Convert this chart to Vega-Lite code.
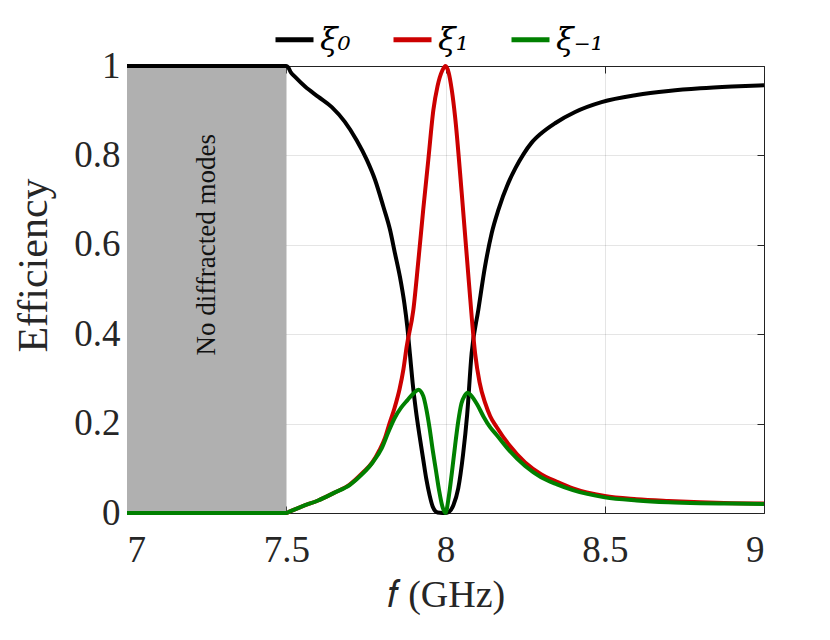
{
  "$schema": "https://vega.github.io/schema/vega-lite/v6.json",
  "width": 637,
  "height": 447,
  "autosize": "none",
  "padding": {"left": 127, "top": 66, "right": 66, "bottom": 127},
  "background": "white",
  "config": {
    "view": {"stroke": "#262626", "strokeWidth": 1},
    "axis": {
      "labelColor": "#262626",
      "titleColor": "#262626",
      "labelFontSize": 37,
      "titleFontSize": 42,
      "titleFontWeight": "normal",
      "domain": false,
      "tickColor": "#262626",
      "tickWidth": 1,
      "tickSize": -7,
      "gridColor": "#000000",
      "gridOpacity": 0.1,
      "zindex": 1
    }
  },
  "datasets": {
    "shade": [{"x": 7, "x2": 7.5, "y": 0, "y2": 1}],
    "note": [{"f": 7.25, "eff": 0.6, "label": "No diffracted modes"}],
    "curves": [
      {"series": "ξ₀", "f": 7.0, "eff": 1.0},
      {"series": "ξ₀", "f": 7.5, "eff": 1.0},
      {"series": "ξ₀", "f": 7.506, "eff": 0.997},
      {"series": "ξ₀", "f": 7.515, "eff": 0.985},
      {"series": "ξ₀", "f": 7.527, "eff": 0.976},
      {"series": "ξ₀", "f": 7.559, "eff": 0.954},
      {"series": "ξ₀", "f": 7.601, "eff": 0.931},
      {"series": "ξ₀", "f": 7.643, "eff": 0.908},
      {"series": "ξ₀", "f": 7.684, "eff": 0.875},
      {"series": "ξ₀", "f": 7.721, "eff": 0.834},
      {"series": "ξ₀", "f": 7.753, "eff": 0.79},
      {"series": "ξ₀", "f": 7.779, "eff": 0.745},
      {"series": "ξ₀", "f": 7.805, "eff": 0.685},
      {"series": "ξ₀", "f": 7.826, "eff": 0.633},
      {"series": "ξ₀", "f": 7.841, "eff": 0.582},
      {"series": "ξ₀", "f": 7.857, "eff": 0.528},
      {"series": "ξ₀", "f": 7.871, "eff": 0.468},
      {"series": "ξ₀", "f": 7.88, "eff": 0.417},
      {"series": "ξ₀", "f": 7.889, "eff": 0.35},
      {"series": "ξ₀", "f": 7.897, "eff": 0.29},
      {"series": "ξ₀", "f": 7.907, "eff": 0.23},
      {"series": "ξ₀", "f": 7.918, "eff": 0.175},
      {"series": "ξ₀", "f": 7.93, "eff": 0.12},
      {"series": "ξ₀", "f": 7.94, "eff": 0.075},
      {"series": "ξ₀", "f": 7.95, "eff": 0.04},
      {"series": "ξ₀", "f": 7.96, "eff": 0.014},
      {"series": "ξ₀", "f": 7.975, "eff": 0.001},
      {"series": "ξ₀", "f": 7.99, "eff": 0.0},
      {"series": "ξ₀", "f": 8.0, "eff": 0.0},
      {"series": "ξ₀", "f": 8.012, "eff": 0.003},
      {"series": "ξ₀", "f": 8.025, "eff": 0.018},
      {"series": "ξ₀", "f": 8.04, "eff": 0.055},
      {"series": "ξ₀", "f": 8.055, "eff": 0.13},
      {"series": "ξ₀", "f": 8.068, "eff": 0.22},
      {"series": "ξ₀", "f": 8.082, "eff": 0.357},
      {"series": "ξ₀", "f": 8.103, "eff": 0.454},
      {"series": "ξ₀", "f": 8.124, "eff": 0.551},
      {"series": "ξ₀", "f": 8.145, "eff": 0.626},
      {"series": "ξ₀", "f": 8.166, "eff": 0.678},
      {"series": "ξ₀", "f": 8.197, "eff": 0.738},
      {"series": "ξ₀", "f": 8.22, "eff": 0.772},
      {"series": "ξ₀", "f": 8.245, "eff": 0.803},
      {"series": "ξ₀", "f": 8.27, "eff": 0.828},
      {"series": "ξ₀", "f": 8.3, "eff": 0.849},
      {"series": "ξ₀", "f": 8.344, "eff": 0.872},
      {"series": "ξ₀", "f": 8.407, "eff": 0.897},
      {"series": "ξ₀", "f": 8.49, "eff": 0.919},
      {"series": "ξ₀", "f": 8.6, "eff": 0.935},
      {"series": "ξ₀", "f": 8.7, "eff": 0.944},
      {"series": "ξ₀", "f": 8.8, "eff": 0.95},
      {"series": "ξ₀", "f": 8.9, "eff": 0.954},
      {"series": "ξ₀", "f": 9.0, "eff": 0.957},

      {"series": "ξ₁", "f": 7.0, "eff": 0.0},
      {"series": "ξ₁", "f": 7.5, "eff": 0.0},
      {"series": "ξ₁", "f": 7.51, "eff": 0.003},
      {"series": "ξ₁", "f": 7.55, "eff": 0.015},
      {"series": "ξ₁", "f": 7.6, "eff": 0.028},
      {"series": "ξ₁", "f": 7.65, "eff": 0.045},
      {"series": "ξ₁", "f": 7.7, "eff": 0.064},
      {"series": "ξ₁", "f": 7.74, "eff": 0.09},
      {"series": "ξ₁", "f": 7.77, "eff": 0.113},
      {"series": "ξ₁", "f": 7.793, "eff": 0.141},
      {"series": "ξ₁", "f": 7.81, "eff": 0.168},
      {"series": "ξ₁", "f": 7.824, "eff": 0.2},
      {"series": "ξ₁", "f": 7.84, "eff": 0.235},
      {"series": "ξ₁", "f": 7.856, "eff": 0.278},
      {"series": "ξ₁", "f": 7.868, "eff": 0.322},
      {"series": "ξ₁", "f": 7.878, "eff": 0.372},
      {"series": "ξ₁", "f": 7.899, "eff": 0.454},
      {"series": "ξ₁", "f": 7.915, "eff": 0.566},
      {"series": "ξ₁", "f": 7.93, "eff": 0.678},
      {"series": "ξ₁", "f": 7.946, "eff": 0.79},
      {"series": "ξ₁", "f": 7.962, "eff": 0.902},
      {"series": "ξ₁", "f": 7.975, "eff": 0.955},
      {"series": "ξ₁", "f": 7.99, "eff": 0.99},
      {"series": "ξ₁", "f": 8.0, "eff": 1.0},
      {"series": "ξ₁", "f": 8.01, "eff": 0.985},
      {"series": "ξ₁", "f": 8.02, "eff": 0.945},
      {"series": "ξ₁", "f": 8.03, "eff": 0.887},
      {"series": "ξ₁", "f": 8.051, "eff": 0.715},
      {"series": "ξ₁", "f": 8.072, "eff": 0.529},
      {"series": "ξ₁", "f": 8.093, "eff": 0.357},
      {"series": "ξ₁", "f": 8.107, "eff": 0.292},
      {"series": "ξ₁", "f": 8.125, "eff": 0.245},
      {"series": "ξ₁", "f": 8.14, "eff": 0.217},
      {"series": "ξ₁", "f": 8.16, "eff": 0.193},
      {"series": "ξ₁", "f": 8.2, "eff": 0.152},
      {"series": "ξ₁", "f": 8.25, "eff": 0.113},
      {"series": "ξ₁", "f": 8.3, "eff": 0.087},
      {"series": "ξ₁", "f": 8.35, "eff": 0.07},
      {"series": "ξ₁", "f": 8.4, "eff": 0.055},
      {"series": "ξ₁", "f": 8.5, "eff": 0.038},
      {"series": "ξ₁", "f": 8.6, "eff": 0.031},
      {"series": "ξ₁", "f": 8.7, "eff": 0.027},
      {"series": "ξ₁", "f": 8.8, "eff": 0.024},
      {"series": "ξ₁", "f": 8.9, "eff": 0.022},
      {"series": "ξ₁", "f": 9.0, "eff": 0.021},

      {"series": "ξ₋₁", "f": 7.0, "eff": 0.0},
      {"series": "ξ₋₁", "f": 7.5, "eff": 0.0},
      {"series": "ξ₋₁", "f": 7.51, "eff": 0.003},
      {"series": "ξ₋₁", "f": 7.55, "eff": 0.015},
      {"series": "ξ₋₁", "f": 7.6, "eff": 0.028},
      {"series": "ξ₋₁", "f": 7.65, "eff": 0.045},
      {"series": "ξ₋₁", "f": 7.7, "eff": 0.063},
      {"series": "ξ₋₁", "f": 7.74, "eff": 0.088},
      {"series": "ξ₋₁", "f": 7.77, "eff": 0.112},
      {"series": "ξ₋₁", "f": 7.8, "eff": 0.145},
      {"series": "ξ₋₁", "f": 7.82, "eff": 0.18},
      {"series": "ξ₋₁", "f": 7.84, "eff": 0.212},
      {"series": "ξ₋₁", "f": 7.86, "eff": 0.235},
      {"series": "ξ₋₁", "f": 7.88, "eff": 0.252},
      {"series": "ξ₋₁", "f": 7.9, "eff": 0.268},
      {"series": "ξ₋₁", "f": 7.915, "eff": 0.276},
      {"series": "ξ₋₁", "f": 7.93, "eff": 0.262},
      {"series": "ξ₋₁", "f": 7.94, "eff": 0.232},
      {"series": "ξ₋₁", "f": 7.95, "eff": 0.19},
      {"series": "ξ₋₁", "f": 7.96, "eff": 0.14},
      {"series": "ξ₋₁", "f": 7.97, "eff": 0.095},
      {"series": "ξ₋₁", "f": 7.98, "eff": 0.05},
      {"series": "ξ₋₁", "f": 7.99, "eff": 0.015},
      {"series": "ξ₋₁", "f": 8.0, "eff": 0.0},
      {"series": "ξ₋₁", "f": 8.01, "eff": 0.035},
      {"series": "ξ₋₁", "f": 8.02, "eff": 0.09},
      {"series": "ξ₋₁", "f": 8.03, "eff": 0.15},
      {"series": "ξ₋₁", "f": 8.04, "eff": 0.205},
      {"series": "ξ₋₁", "f": 8.05, "eff": 0.245},
      {"series": "ξ₋₁", "f": 8.06, "eff": 0.262},
      {"series": "ξ₋₁", "f": 8.07, "eff": 0.269},
      {"series": "ξ₋₁", "f": 8.08, "eff": 0.263},
      {"series": "ξ₋₁", "f": 8.1, "eff": 0.242},
      {"series": "ξ₋₁", "f": 8.12, "eff": 0.215},
      {"series": "ξ₋₁", "f": 8.14, "eff": 0.192},
      {"series": "ξ₋₁", "f": 8.16, "eff": 0.175},
      {"series": "ξ₋₁", "f": 8.2, "eff": 0.14},
      {"series": "ξ₋₁", "f": 8.25, "eff": 0.105},
      {"series": "ξ₋₁", "f": 8.3, "eff": 0.08},
      {"series": "ξ₋₁", "f": 8.35, "eff": 0.064},
      {"series": "ξ₋₁", "f": 8.4, "eff": 0.051},
      {"series": "ξ₋₁", "f": 8.5, "eff": 0.035},
      {"series": "ξ₋₁", "f": 8.6, "eff": 0.028},
      {"series": "ξ₋₁", "f": 8.7, "eff": 0.024},
      {"series": "ξ₋₁", "f": 8.8, "eff": 0.022},
      {"series": "ξ₋₁", "f": 8.9, "eff": 0.021},
      {"series": "ξ₋₁", "f": 9.0, "eff": 0.02}
    ]
  },
  "resolve": {"axis": {"x": "independent", "y": "independent"}},
  "layer": [
    {
      "data": {"name": "shade"},
      "mark": {"type": "rect", "color": "#b0b0b0"},
      "encoding": {
        "x": {
          "field": "x", "type": "quantitative",
          "scale": {"domain": [7, 9], "nice": false, "zero": false},
          "axis": {
            "orient": "bottom",
            "values": [7, 7.5, 8, 8.5, 9],
            "format": "~g",
            "labelFont": "Liberation Serif",
            "labelPadding": 26,
            "title": "𝑓 (GHz)",
            "titleFont": "Liberation Serif",
            "titleFontSize": 38,
            "titlePadding": 8,
            "grid": true
          }
        },
        "x2": {"field": "x2"},
        "y": {
          "field": "y", "type": "quantitative",
          "scale": {"domain": [0, 1], "nice": false},
          "axis": {
            "orient": "left",
            "values": [0, 0.2, 0.4, 0.6, 0.8, 1],
            "labelExpr": "datum.value == 0 ? '0' : datum.value == 1 ? '1' : format(datum.value, '.1f')",
            "labelFont": "Liberation Serif",
            "labelPadding": 14,
            "title": "Efficiency",
            "titleFont": "Liberation Serif",
            "titlePadding": 18,
            "titleY": 199,
            "grid": true
          }
        },
        "y2": {"field": "y2"}
      }
    },
    {
      "data": {"name": "curves"},
      "mark": {"type": "line", "strokeWidth": 4, "interpolate": "monotone"},
      "encoding": {
        "x": {
          "field": "f", "type": "quantitative",
          "scale": {"domain": [7, 9], "nice": false, "zero": false},
          "axis": {"orient": "top", "values": [7, 7.5, 8, 8.5, 9], "labels": false, "title": null, "grid": false}
        },
        "y": {
          "field": "eff", "type": "quantitative",
          "scale": {"domain": [0, 1], "nice": false},
          "axis": {"orient": "right", "values": [0, 0.2, 0.4, 0.6, 0.8, 1], "labels": false, "title": null, "grid": false}
        },
        "color": {
          "field": "series", "type": "nominal",
          "sort": ["ξ₀", "ξ₁", "ξ₋₁"],
          "scale": {"domain": ["ξ₀", "ξ₁", "ξ₋₁"], "range": ["#000000", "#cc0000", "#008000"]},
          "legend": {
            "orient": "none",
            "legendX": 146,
            "legendY": -48,
            "direction": "horizontal",
            "title": null,
            "labelFont": "DejaVu Serif",
            "labelFontStyle": "italic",
            "labelFontSize": 32,
            "labelColor": "#000000",
            "symbolType": "stroke",
            "symbolSize": 1444,
            "symbolStrokeWidth": 5,
            "columnPadding": 32,
            "labelOffset": 4
          }
        }
      }
    },
    {
      "data": {"name": "note"},
      "mark": {"type": "text", "angle": 270, "align": "center", "baseline": "middle", "font": "Liberation Serif", "fontSize": 27, "color": "#111111"},
      "encoding": {
        "x": {"field": "f", "type": "quantitative", "axis": null},
        "y": {"field": "eff", "type": "quantitative", "axis": null},
        "text": {"field": "label"}
      }
    }
  ]
}
